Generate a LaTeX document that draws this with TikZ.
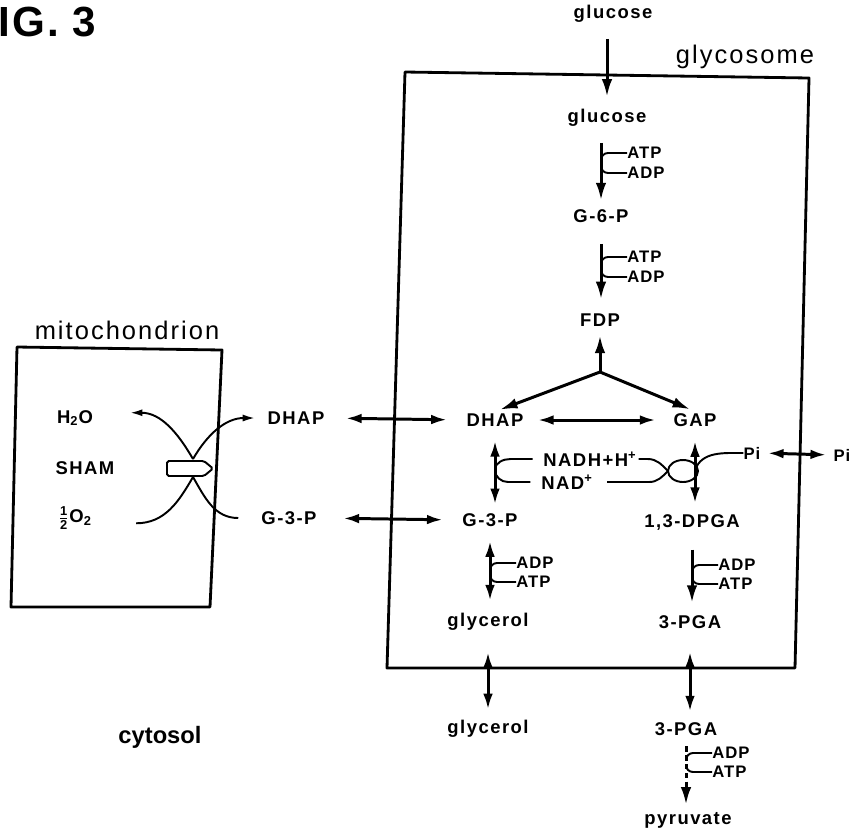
\documentclass[tikz,border=0pt]{standalone}
\usepackage{fontspec}
\setmainfont{Liberation Sans}
\usetikzlibrary{arrows.meta}
\tikzset{
  lbl/.style={font=\bfseries\fontsize{10.5}{12}\selectfont\addfontfeatures{LetterSpace=8},inner sep=1pt},
  co/.style={font=\bfseries\fontsize{9.5}{11}\selectfont\addfontfeatures{LetterSpace=6},inner sep=0pt},
  big/.style={font=\fontsize{14.5}{17}\selectfont\addfontfeatures{LetterSpace=8}},
  wall/.style={line width=1.6pt,line join=round},
  fw/.style={line width=1.7pt,-{Latex[length=10pt,width=6pt]}},
  bi/.style={line width=1.7pt,{Latex[length=9pt,width=5.5pt]}-{Latex[length=9pt,width=5.5pt]}},
  side/.style={line width=1.1pt},
  mt/.style={line width=1.1pt,-{Latex[length=7pt,width=4pt]}}
}
\begin{document}
\begin{tikzpicture}[x=.02cm,y=-.02cm]
\useasboundingbox (0,0) rectangle (858,836);
\draw[wall] (405,72)--(809,78)--(795,668)--(387,668)--cycle;
\draw[wall] (17,347)--(222,350)--(210,607)--(11,607)--cycle;
\node[font=\bfseries\fontsize{24}{28}\selectfont\addfontfeatures{LetterSpace=5},anchor=west,inner sep=0pt] (fig) at (-2,22) {IG. 3};
\node[big] (glyco) at (745,57) {glycosome};
\node[big] (mito) at (127,330) {mitochondrion};
\node[big,font=\bfseries\fontsize{13.5}{16}\selectfont] (cyto) at (160,737) {cytosol};
\node[lbl] (glc0) at (613,14) {glucose};
\node[lbl] (glc1) at (607,118) {glucose};
\node[lbl] (g6p) at (601,216) {G-6-P};
\node[lbl] (fdp) at (600,320) {FDP};
\node[lbl] (dhap) at (495,420) {DHAP};
\node[lbl] (gap) at (695,420) {GAP};
\node[lbl] (g3p) at (490,520) {G-3-P};
\node[lbl] (dpga) at (692,522) {1,3-DPGA};
\node[lbl] (gol) at (488,622) {glycerol};
\node[lbl] (pga) at (690,622) {3-PGA};
\node[lbl] (golout) at (488,729) {glycerol};
\node[lbl] (pgaout) at (686,729) {3-PGA};
\node[lbl] (pyr) at (688,820) {pyruvate};
\node[lbl] (dhapout) at (296,418) {DHAP};
\node[lbl] (g3pout) at (289,518) {G-3-P};
\node[lbl] (h2o) at (75,418) {H\textsubscript{2}O};
\node[lbl] (sham) at (85,468) {SHAM};
\node[lbl] (oxy) at (75,518) {$\frac{\mathbf{1}}{\mathbf{2}}$O\textsubscript{2}};
\node[lbl] (nadh) at (590,459) {NADH+H\textsuperscript{+}};
\node[lbl] (nad) at (567,482) {NAD\textsuperscript{+}};
\node[co] (piin) at (752,453) {Pi};
\node[co] (piout) at (842,455) {Pi};
\coordinate (fork) at (600,372);
\coordinate (nj) at (495,470);
\coordinate (pij) at (695,470);
\coordinate (lp) at (668,471);
\coordinate (cu) at (193,459);
\coordinate (cl) at (193,477);
\draw[fw,shorten <=8pt,shorten >=6pt] (glc1.north |- glc0.south)--(glc1.north);
\draw[fw,shorten <=8pt,shorten >=4pt] (g6p.north |- glc1.south)--(g6p.north);
\draw[fw,shorten <=11pt,shorten >=7pt] (g6p.south)--(g6p.south |- fdp.north);
\draw[fw,shorten >=4pt] (fork)--(fork |- fdp.south);
\draw[fw,shorten >=3pt] (fork)--(dhap.north);
\draw[fw,shorten >=3pt] (fork)--(gap.north);
\draw[bi,shorten <=7pt,shorten >=9pt] (dhap.east)--(gap.west);
\draw[bi,shorten <=11pt,shorten >=10pt] (dhapout.east)--(dhap.west);
\draw[bi,shorten <=14pt,shorten >=10pt] (g3pout.east)--(g3p.west);
\draw[bi,shorten <=7pt,shorten >=4pt] (dhap.south)--(dhap.south |- g3p.north);
\draw[bi,shorten <=7pt,shorten >=5pt] (gap.south)--(gap.south |- dpga.north);
\draw[bi,shorten <=7pt,shorten >=6pt] (g3p.south)--(g3p.south |- gol.north);
\draw[fw,shorten <=10pt,shorten >=6pt] (dpga.south)--(dpga.south |- pga.north);
\draw[bi,shorten <=11pt,shorten >=5pt] (gol.south)--(gol.south |- golout.north);
\draw[bi,shorten <=12pt,shorten >=5pt] (pga.south)--(pga.south |- pgaout.north);
\draw[fw,dash pattern=on 3pt off 2pt,shorten <=5pt,shorten >=3pt] (pgaout.south)--(pgaout.south |- pyr.north);
\draw[bi,shorten <=4pt,shorten >=4pt] (piin.east)--(piout.west);
\foreach \x/\ya/\yb/\la/\lb/\n in {601/153/173/ATP/ADP/1,601/257/277/ATP/ADP/2,490/563/582/ADP/ATP/3,692/565/584/ADP/ATP/4,686/753/772/ADP/ATP/5}{
  \node[co,anchor=west] (ca\n) at (\x+26,\ya) {\la};
  \node[co,anchor=west] (cb\n) at (\x+26,\yb) {\lb};
  \draw[side] (ca\n.west)--++(-19,0) to[out=180,in=90] ++(-7,7);
  \draw[side] (cb\n.west)--++(-19,0) to[out=180,in=-90] ++(-7,-7);
}
\draw[side] ([xshift=-5pt]nadh.west)--++(-22,0) to[out=180,in=90] (nj) to[out=-90,in=180] ++(13,12)--([xshift=-5pt]nad.west);
\draw[side] (nadh.east)--++(9,0) to[out=0,in=135] (lp);
\draw[side] ([xshift=7pt]nad.east)--++(42,0) to[out=0,in=-135] (lp);
\draw[side] (683,471) ellipse[x radius=15,y radius=11];
\draw[side] (piin.west) to[out=180,in=70] (pij);
\draw[mt] (cu) to[out=120,in=0] ([xshift=20pt,yshift=3pt]h2o.east);
\draw[mt] (cu) to[out=60,in=180] ([xshift=-6pt]dhapout.west);
\draw[side] ([xshift=24pt,yshift=-3pt]oxy.east) to[out=0,in=-120] (cl);
\draw[side] (cl) to[out=-60,in=180] ([xshift=-12pt]g3pout.west);
\draw[side,fill=white,rounded corners=1pt] (167,461)--(204,461)--(213,468.5)--(204,476)--(167,476)--cycle;
\end{tikzpicture}
\end{document}
